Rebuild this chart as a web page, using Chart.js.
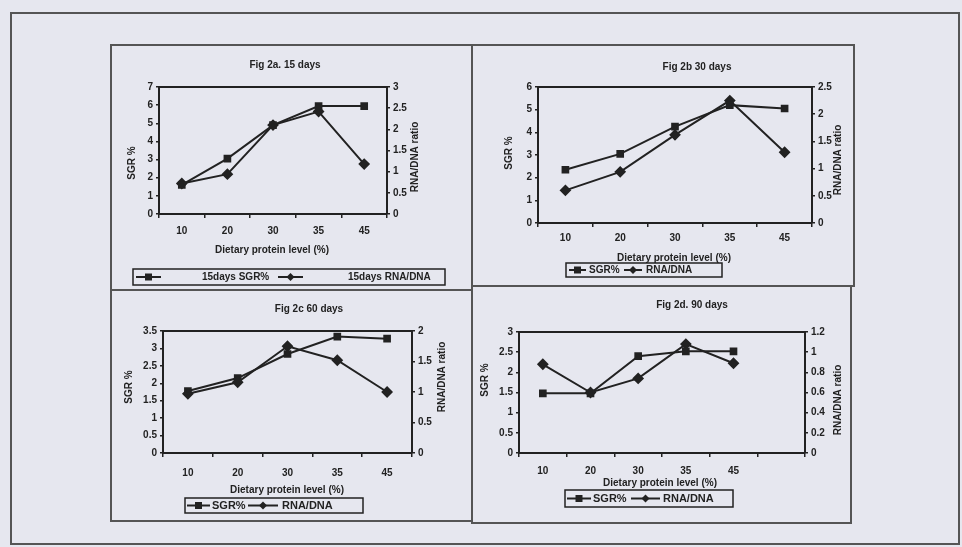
<!DOCTYPE html>
<html>
<head>
<meta charset="utf-8">
<script src="https://cdn.jsdelivr.net/npm/chart.js@4/dist/chart.umd.min.js"></script>
<style>
  body { margin: 0; width: 962px; height: 547px; background: #e6e7ef; position: relative; overflow: hidden; }
  canvas { position: absolute; }
  .box { position: absolute; border: 2px solid #555; box-sizing: border-box; }
</style>
</head>
<body>
<canvas id="c15" width="361" height="245" style="left:110px;top:44px"></canvas>
<canvas id="c30" width="384" height="241" style="left:471px;top:44px"></canvas>
<canvas id="c60" width="361" height="232" style="left:110px;top:289px"></canvas>
<canvas id="c90" width="381" height="238" style="left:471px;top:285px"></canvas>

<div class="box" style="left:10px;top:12px;width:950px;height:533px"></div>
<div class="box" style="left:110px;top:44px;width:363px;height:247px"></div>
<div class="box" style="left:471px;top:44px;width:384px;height:243px"></div>
<div class="box" style="left:110px;top:289px;width:363px;height:233px"></div>
<div class="box" style="left:471px;top:285px;width:381px;height:239px"></div>

<script>
// dietary protein levels (%)
const levels = ["10", "20", "30", "35", "45"];
const levels90 = ["10", "20", "30", "35", "45", ""];

// 15 days
const sgr15 = [1.6, 3.05, 4.9, 5.95, 5.95];
const rna15 = [0.72, 0.94, 2.1, 2.42, 1.18];
// 30 days
const sgr30 = [2.35, 3.05, 4.25, 5.2, 5.05];
const rna30 = [0.6, 0.94, 1.62, 2.25, 1.3];
// 60 days
const sgr60 = [1.78, 2.15, 2.84, 3.34, 3.28];
const rna60 = [0.97, 1.16, 1.75, 1.52, 1.0];
// 90 days
const sgr90 = [1.48, 1.48, 2.4, 2.52, 2.52];
const rna90 = [0.88, 0.6, 0.74, 1.08, 0.89];

const ink = "#222";
const fontFam = "Arial, 'Liberation Sans', sans-serif";
Chart.defaults.font.family = fontFam;
Chart.defaults.font.size = 10;
Chart.defaults.font.weight = "bold";
Chart.defaults.color = ink;

// excel style numbers: 3, 2.5, 2 ...
const plainNum = v => String(Number(v.toFixed(2)));

function marker(c, style, x, y) {
  c.beginPath();
  if (style === "rect") {
    c.rect(x - 3.5, y - 3.5, 7, 7);
  } else {
    c.moveTo(x, y - 4); c.lineTo(x + 4, y); c.lineTo(x, y + 4); c.lineTo(x - 4, y); c.closePath();
  }
  c.fill();
}

// titles, axis titles, frame top and boxed legend
const deco = {
  id: "deco",
  afterDraw(chart, args, o) {
    const c = chart.ctx, a = chart.chartArea;
    c.save();
    c.strokeStyle = ink; c.fillStyle = ink; c.lineWidth = 2;
    c.beginPath(); c.moveTo(a.left, a.top); c.lineTo(a.right, a.top); c.stroke();

    c.textAlign = "center"; c.textBaseline = "middle";
    c.font = "bold 10px " + fontFam;
    c.fillText(o.title, o.titleAt[0], o.titleAt[1]);
    c.fillText("Dietary protein level (%)", o.xAt[0], o.xAt[1]);
    [["SGR %", o.yAt], ["RNA/DNA ratio", o.y2At]].forEach(([t, p]) => {
      c.save(); c.translate(p[0], p[1]); c.rotate(-Math.PI / 2); c.fillText(t, 0, 0); c.restore();
    });

    const [bx, by, bw, bh] = o.box;
    c.fillStyle = "#e6e7ef"; c.fillRect(bx, by, bw, bh);
    c.fillStyle = ink;
    c.lineWidth = 1.5; c.strokeRect(bx, by, bw, bh);
    c.textAlign = "left";
    c.font = "bold " + o.legendSize + "px " + fontFam;
    const my = by + bh / 2;
    chart.data.datasets.forEach((ds, i) => {
      const [l1, l2, tx] = o.entries[i];
      c.lineWidth = 2;
      c.beginPath(); c.moveTo(bx + l1, my); c.lineTo(bx + l2, my); c.stroke();
      marker(c, ds.pointStyle, bx + (l1 + l2) / 2, my);
      c.fillText(ds.label, bx + tx, my + 0.5);
    });
    c.restore();
  }
};

function makeChart(id, labels, sgr, rna, names, plot, yMax, yStep, y2Max, y2Step, xPad, d) {
  const cv = document.getElementById(id);
  const W = cv.width, H = cv.height;
  const axisLine = { display: true, color: ink, width: 2 };
  const noGrid = { drawOnChartArea: false, drawTicks: true, tickLength: 3, color: ink, lineWidth: 1.5 };
  new Chart(cv, {
    type: "line",
    data: {
      labels: labels,
      datasets: [
        { label: names[0], data: sgr, yAxisID: "y", pointStyle: "rect", pointRadius: 4,
          borderColor: ink, backgroundColor: ink, borderWidth: 2, tension: 0 },
        { label: names[1], data: rna, yAxisID: "y2", pointStyle: "rectRot", pointRadius: 4.5,
          borderColor: ink, backgroundColor: ink, borderWidth: 2, tension: 0 }
      ]
    },
    options: {
      responsive: false,
      animation: false,
      layout: { padding: { top: plot[1], left: 0, right: 0, bottom: 0 } },
      plugins: { legend: { display: false }, tooltip: { enabled: false }, deco: d },
      scales: {
        x: {
          offset: true,
          grid: { drawOnChartArea: false, offset: true, tickLength: 4, color: ink, lineWidth: 1.5 },
          border: axisLine,
          ticks: { padding: xPad, maxRotation: 0, autoSkip: false },
          afterFit: s => { s.height = H - plot[3]; }
        },
        y: {
          position: "left", min: 0, max: yMax,
          ticks: { stepSize: yStep, padding: 3, callback: plainNum },
          grid: noGrid, border: axisLine,
          afterFit: s => { s.width = plot[0]; }
        },
        y2: {
          position: "right", min: 0, max: y2Max,
          ticks: { stepSize: y2Step, padding: 3, callback: plainNum },
          grid: noGrid, border: axisLine,
          afterFit: s => { s.width = W - plot[2]; }
        }
      }
    },
    plugins: [deco]
  });
}

makeChart("c15", levels, sgr15, rna15, ["15days SGR%", "15days RNA/DNA"],
  [49, 43, 277, 170], 7, 1, 3, 0.5, 7,
  { title: "Fig 2a. 15 days", titleAt: [175, 21], xAt: [162, 206], yAt: [22, 119], y2At: [305, 113],
    box: [23, 225, 312, 16], entries: [[3, 28, 69], [145, 170, 215]], legendSize: 10 });

makeChart("c30", levels, sgr30, rna30, ["SGR%", "RNA/DNA"],
  [67, 43, 341, 179], 6, 1, 2.5, 0.5, 5,
  { title: "Fig 2b 30 days", titleAt: [226, 23], xAt: [203, 214], yAt: [38, 109], y2At: [367, 116],
    box: [95, 219, 156, 14], entries: [[3, 20, 23], [58, 76, 80]], legendSize: 10 });

makeChart("c60", levels, sgr60, rna60, ["SGR%", "RNA/DNA"],
  [53, 42, 302, 164], 3.5, 0.5, 2, 0.5, 10,
  { title: "Fig 2c 60 days", titleAt: [199, 20], xAt: [177, 201], yAt: [19, 98], y2At: [332, 88],
    box: [75, 209, 178, 15], entries: [[2, 25, 27], [63, 93, 97]], legendSize: 11 });

makeChart("c90", levels90, sgr90, rna90, ["SGR%", "RNA/DNA"],
  [48, 47, 334, 168], 3, 0.5, 1.2, 0.2, 8,
  { title: "Fig 2d. 90 days", titleAt: [221, 20], xAt: [189, 198], yAt: [14, 95], y2At: [367, 115],
    box: [94, 205, 168, 17], entries: [[2, 26, 28], [66, 95, 98]], legendSize: 11 });
</script>
</body>
</html>
